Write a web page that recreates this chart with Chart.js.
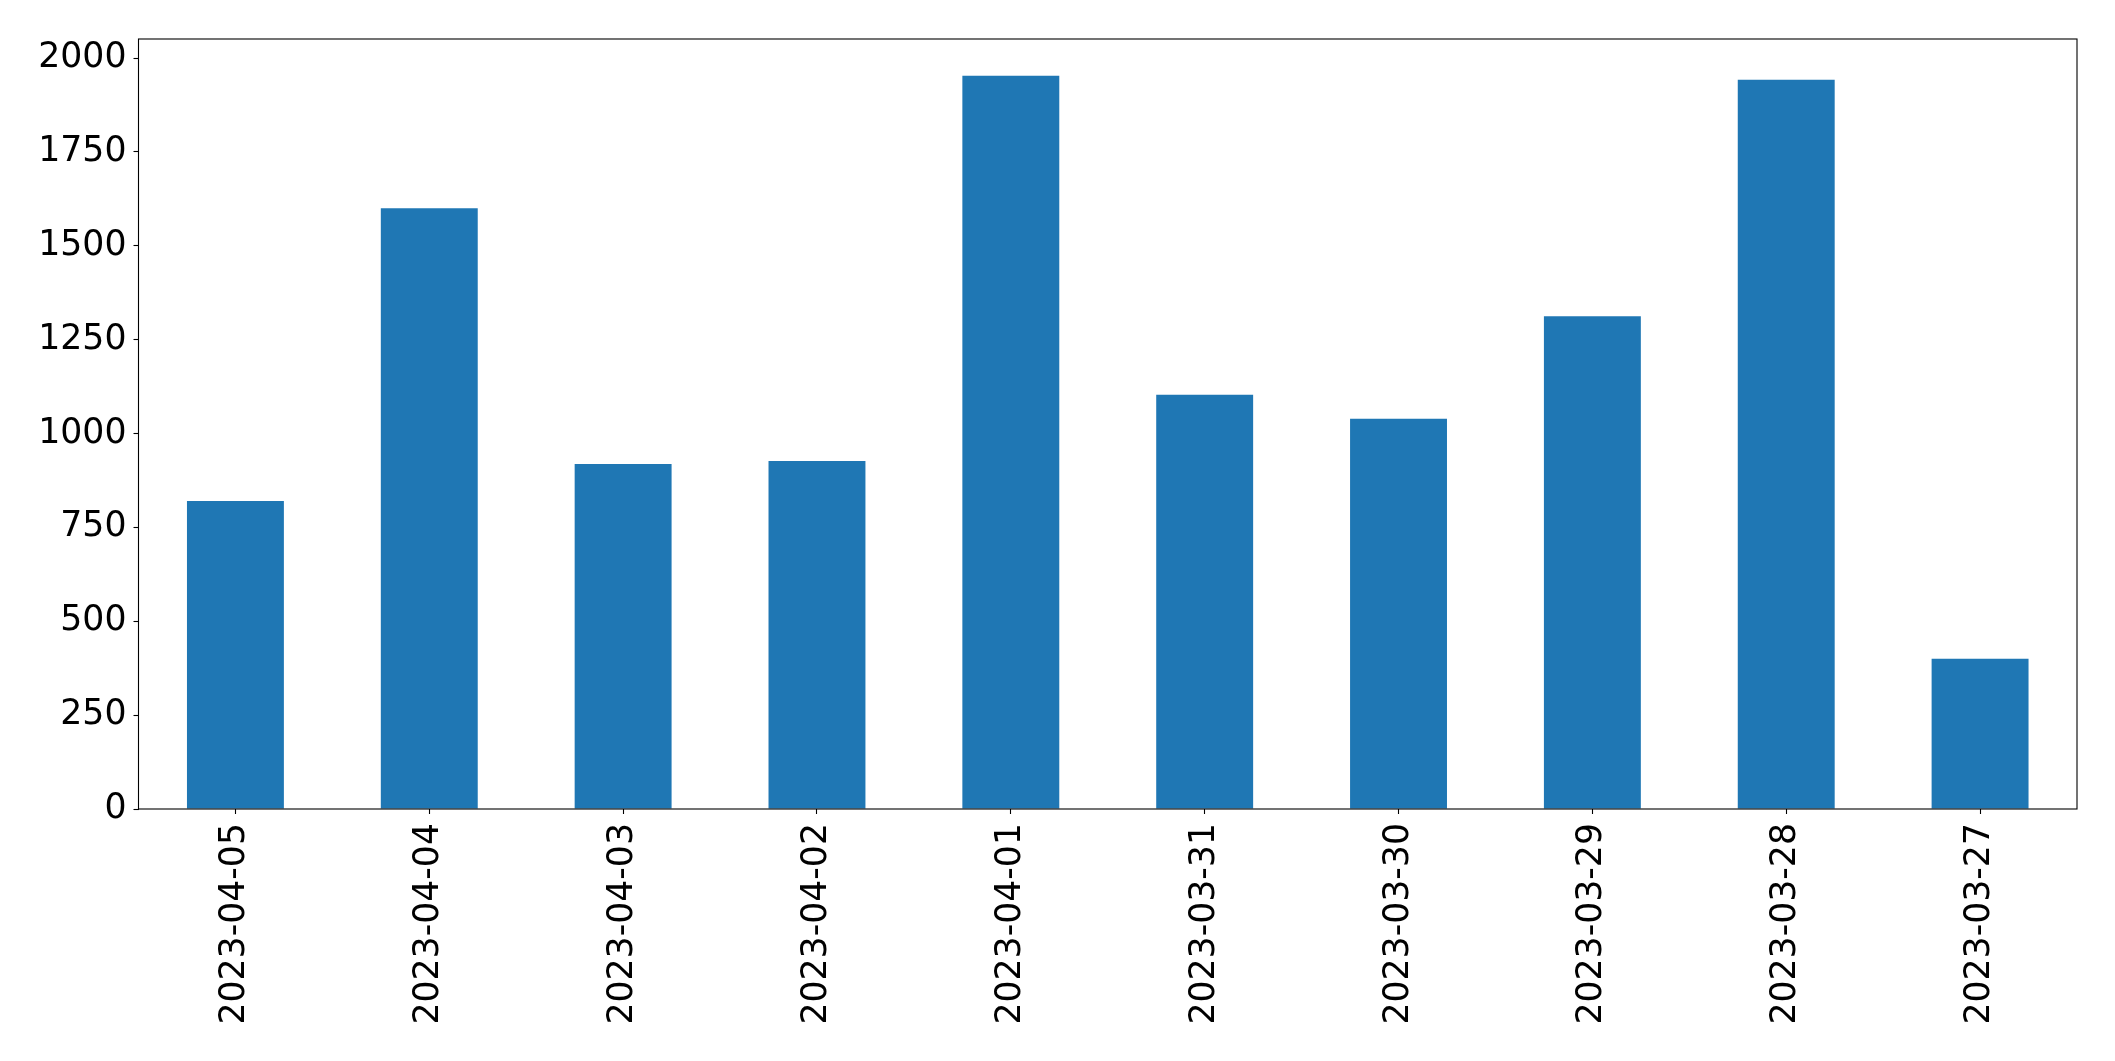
<!DOCTYPE html>
<html>
<head>
<meta charset="utf-8">
<script src="https://cdn.jsdelivr.net/npm/chart.js@4/dist/chart.umd.min.js"></script>
<style>
  html, body { margin: 0; padding: 0; background: #fff; }
  #wrap { width: 2115px; height: 1061px; }
</style>
</head>
<body>
<div id="wrap"><canvas id="barChart" width="2115" height="1061"></canvas></div>
<script>
const dates = ["2023-04-05", "2023-04-04", "2023-04-03", "2023-04-02", "2023-04-01",
               "2023-03-31", "2023-03-30", "2023-03-29", "2023-03-28", "2023-03-27"];
const counts = [820, 1600, 919, 927, 1953, 1103, 1039, 1312, 1942, 400];
const yTicks = [0, 250, 500, 750, 1000, 1250, 1500, 1750, 2000];

const frame = {
  id: "frame",
  afterDraw(chart) {
    const a = chart.chartArea;
    const ctx = chart.ctx;
    ctx.save();
    ctx.strokeStyle = "#000";
    ctx.lineWidth = 1.1;
    ctx.strokeRect(a.left, a.top, a.right - a.left, a.bottom - a.top);
    ctx.restore();
  }
};

const font = { family: "DejaVu Sans", size: 34.7 };

new Chart(document.getElementById("barChart").getContext("2d"), {
  type: "bar",
  data: {
    labels: dates,
    datasets: [{
      data: counts,
      backgroundColor: "#1f77b4",
      barPercentage: 0.5,
      categoryPercentage: 1.0
    }]
  },
  options: {
    responsive: false,
    animation: false,
    layout: { padding: { left: 0, top: 39, right: 38, bottom: 0 } },
    plugins: { legend: { display: false }, tooltip: { enabled: false } },
    scales: {
      x: {
        offset: true,
        grid: { offset: false, drawOnChartArea: false, tickLength: 5, tickColor: "#000", tickWidth: 1.1 },
        border: { display: false },
        ticks: { color: "#000", font, minRotation: 90, maxRotation: 90, padding: 9, autoSkip: false },
        afterFit(scale) { scale.height = 252; }
      },
      y: {
        min: 0,
        max: 2050.6,
        afterBuildTicks(scale) { scale.ticks = yTicks.map(v => ({ value: v })); },
        grid: { drawOnChartArea: false, tickLength: 5, tickColor: "#000", tickWidth: 1.1 },
        border: { display: false },
        ticks: { color: "#000", font, padding: 7, callback: v => String(v) },
        afterFit(scale) { scale.width = 138.5; }
      }
    }
  },
  plugins: [frame]
});
</script>
</body>
</html>
